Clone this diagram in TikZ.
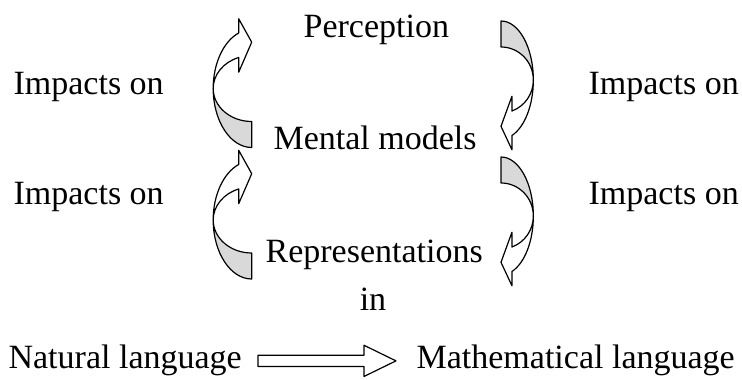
\documentclass[tikz,border=0pt]{standalone}
\usepackage{fontspec}
\setmainfont{Liberation Serif}
\usetikzlibrary{shapes.arrows,calc}
\definecolor{backgray}{RGB}{217,217,217}
\definecolor{edgeblack}{RGB}{0,0,0}

% one bent block arrow, tail at the origin, head up, bulging left
\newcommand{\bendarrow}{%
  \filldraw[fill=white] (-13,55.5)
    arc[start angle=109.7,end angle=180,x radius=38.5,y radius=59]
    arc[start angle=180,end angle=109.7,x radius=38.5,y radius=33]
    -- (-13,16.3) -- (0,46.3) -- (-13,69.7) -- cycle;
  \filldraw[fill=backgray] (-38.5,0)
    arc[start angle=180,end angle=270,x radius=38.5,y radius=59]
    -- (0,-33)
    arc[start angle=270,end angle=180,x radius=38.5,y radius=33]
    -- cycle;
}

\begin{document}
\begin{tikzpicture}[x=1pt,y=1pt,line width=1.2pt,line join=round,draw=edgeblack,
  every node/.style={font=\fontsize{34}{40}\selectfont,inner sep=0pt}]
\useasboundingbox (0,0) rectangle (742,380);

% ---------- Chain ----------
\node[anchor=base west] (perc) at (303,342) {Perception};
\node[anchor=base west] (ment) at (273,230) {Mental models};
\node[anchor=base west] (repr) at (265,117) {Representations};
\node[anchor=base] (inword) at (373,69) {in};

% ---------- Side labels ----------
\node[anchor=base west] (impL1) at (13,285) {Impacts on};
\node[anchor=base west] (impR1) at (588,285) {Impacts on};
\node[anchor=base west] (impL2) at (13,175) {Impacts on};
\node[anchor=base west] (impR2) at (588,175) {Impacts on};

% ---------- Bent arrows ----------
\begin{scope}[shift={(251.7,291.5)}]
  \bendarrow
\end{scope}
\begin{scope}[shift={(251.7,160)}]
  \bendarrow
\end{scope}
\begin{scope}[shift={(501,300)},xscale=-0.84,yscale=-1]
  \bendarrow
\end{scope}
\begin{scope}[shift={(501,164)},xscale=-0.84,yscale=-1]
  \bendarrow
\end{scope}

% ---------- Languages ----------
\node[anchor=base west] (natl) at (8,11) {Natural language};
\node[anchor=base west] (matl) at (416,11) {Mathematical language};
\node[single arrow,draw,fill=white,minimum height=138pt,
  single arrow head extend=10pt,single arrow tip angle=52,
  inner xsep=0pt,inner ysep=5pt,anchor=tail] (arr)
  at ($(natl.east)+(15,0)$) {};

\end{tikzpicture}
\end{document}
